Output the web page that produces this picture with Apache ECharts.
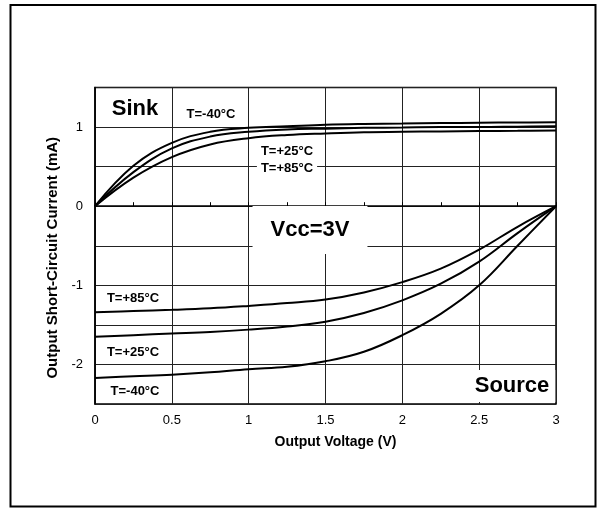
<!DOCTYPE html>
<html>
<head>
<meta charset="utf-8">
<script src="https://cdn.jsdelivr.net/npm/echarts@6/dist/echarts.min.js"></script>
<style>
  html, body { margin: 0; padding: 0; background: #fff; }
  #chart { width: 602px; height: 509px; }
</style>
</head>
<body>
<div id="chart"></div>
<script>
// output voltage (V), read every 0.25 V
const volts = [0, 0.25, 0.5, 0.75, 1, 1.25, 1.5, 1.75, 2, 2.25, 2.5, 2.75, 3];

// sink current (mA)
const sinkM40 = [0, 0.51, 0.80, 0.94, 0.99, 1.01, 1.03, 1.04, 1.045, 1.05, 1.055, 1.058, 1.06];
const sinkP25 = [0, 0.43, 0.73, 0.88, 0.94, 0.97, 0.98, 0.99, 0.995, 1.0, 1.0, 1.005, 1.01];
const sinkP85 = [0, 0.36, 0.62, 0.78, 0.86, 0.90, 0.92, 0.935, 0.94, 0.945, 0.95, 0.952, 0.955];

// source current (mA)
const sourceP85 = [-1.34, -1.325, -1.31, -1.29, -1.26, -1.225, -1.18, -1.09, -0.96, -0.79, -0.55, -0.26, 0];
const sourceP25 = [-1.65, -1.63, -1.61, -1.59, -1.56, -1.52, -1.46, -1.35, -1.19, -0.98, -0.70, -0.34, 0];
const sourceM40 = [-2.17, -2.15, -2.13, -2.10, -2.06, -2.03, -1.96, -1.84, -1.63, -1.36, -1.00, -0.50, 0];

const FONT = 'Liberation Sans, Arial, sans-serif';

function curve(ys) {
  return {
    type: 'line',
    smooth: 0.4,
    showSymbol: false,
    silent: true,
    lineStyle: { color: '#000', width: 2 },
    data: volts.map((x, i) => [x, ys[i]])
  };
}

function label(text, x, y, size, pad) {
  return {
    type: 'text',
    x: x,
    y: y,
    z: 100,
    style: {
      text: text,
      fill: '#000',
      font: 'bold ' + size + 'px ' + FONT,
      textAlign: 'center',
      textVerticalAlign: 'middle',
      backgroundColor: pad ? '#fff' : null,
      padding: pad || 0
    }
  };
}

const chart = echarts.init(document.getElementById('chart'), null, { renderer: 'canvas' });

const option = {
  animation: false,
  backgroundColor: '#fff',
  grid: {
    left: 95, right: 46, top: 87.5, bottom: 105,
    show: true, borderColor: '#000', borderWidth: 1.5
  },
  xAxis: {
    type: 'value',
    min: 0, max: 3, interval: 0.5,
    name: 'Output Voltage (V)',
    nameLocation: 'middle',
    nameGap: 31,
    nameTextStyle: { fontFamily: FONT, fontWeight: 'bold', fontSize: 14, color: '#000', padding: [0, 0, 0, 20] },
    axisLine: { lineStyle: { color: '#000', width: 1.5 } },
    axisTick: { show: true, inside: true, length: 4, lineStyle: { color: '#000' } },
    minorTick: { show: true, splitNumber: 2, length: 4, lineStyle: { color: '#000' } },
    axisLabel: { fontFamily: FONT, fontSize: 13, color: '#000', margin: 10 },
    splitLine: { lineStyle: { color: '#222', width: 1 } }
  },
  yAxis: {
    type: 'value',
    min: -2.5, max: 1.5, interval: 0.5,
    name: 'Output Short-Circuit Current (mA)',
    nameLocation: 'middle',
    nameGap: 25,
    nameRotate: 90,
    nameTextStyle: { fontFamily: FONT, fontWeight: 'bold', fontSize: 15, color: '#000', padding: [0, 24, 0, 0] },
    axisLine: { lineStyle: { color: '#000', width: 1.5 } },
    axisTick: { show: false },
    axisLabel: {
      fontFamily: FONT, fontSize: 13, color: '#000', margin: 12,
      formatter: v => (Number.isInteger(v) ? String(v) : '')
    },
    splitLine: { lineStyle: { color: '#222', width: 1 } }
  },
  graphic: [
    {
      type: 'rect',
      shape: { x: 10.5, y: 5, width: 585, height: 501.5 },
      style: { fill: null, stroke: '#000', lineWidth: 2 },
      silent: true
    },
    label('Sink', 135, 109, 22),
    label('T=-40°C', 211, 114, 13),
    label('T=+25°C', 287, 151, 13),
    label('T=+85°C', 287, 168, 13, [1, 4, 1, 4]),
    label('Vcc=3V', 310, 230, 22, [13, 18, 13, 18]),
    label('T=+85°C', 133, 298.5, 13),
    label('T=+25°C', 133, 352, 13),
    label('T=-40°C', 135, 391, 13),
    label('Source', 511, 386, 22, [5, 6, 5, 8])
  ],
  series: [
    curve(sinkM40),
    curve(sinkP25),
    curve(sinkP85),
    curve(sourceP85),
    curve(sourceP25),
    curve(sourceM40)
  ]
};

chart.setOption(option);
</script>
</body>
</html>
